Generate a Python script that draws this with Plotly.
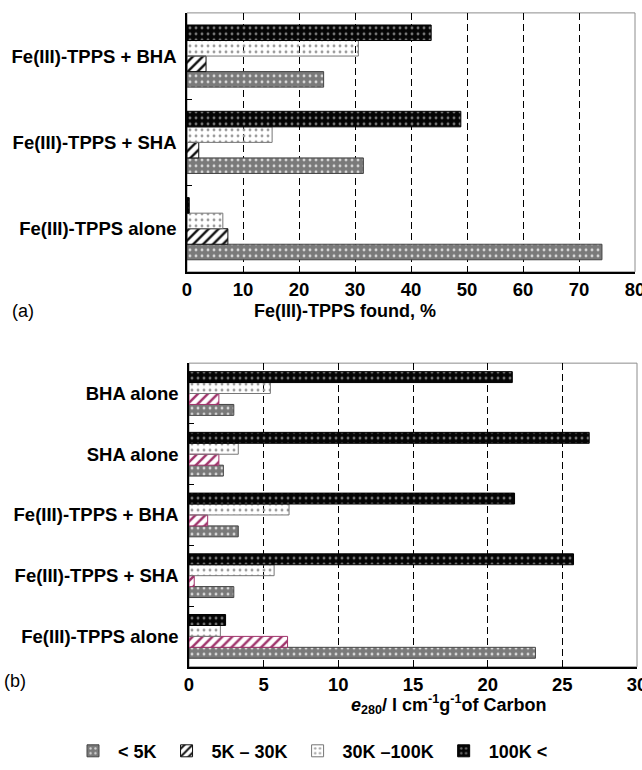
import plotly.graph_objects as go

# ---- data -------------------------------------------------------------
size_classes = ["< 5K", "5K \u2013 30K", "30K \u2013100K", "100K <"]

# (a) Fe(III)-TPPS found in each molecular-size fraction, %
groups_a = ["Fe(III)-TPPS alone", "Fe(III)-TPPS + SHA", "Fe(III)-TPPS + BHA"]
found_lt5k = [74.1, 31.5, 24.4]
found_5k_30k = [7.3, 2.1, 3.4]
found_30k_100k = [6.4, 15.2, 30.6]
found_gt100k = [0.4, 48.9, 43.6]

# (b) e280 of each fraction, l cm^-1 g^-1 of carbon
groups_b = ["Fe(III)-TPPS alone", "Fe(III)-TPPS + SHA", "Fe(III)-TPPS + BHA",
            "SHA alone", "BHA alone"]
e280_lt5k = [23.2, 3.0, 3.3, 2.3, 3.0]
e280_5k_30k = [6.6, 0.35, 1.25, 2.0, 2.0]
e280_30k_100k = [2.1, 5.7, 6.7, 3.3, 5.45]
e280_gt100k = [2.45, 25.75, 21.8, 26.8, 21.65]

# ---- styling ----------------------------------------------------------
FONT = "Liberation Sans, Arial, Helvetica, sans-serif"


def dotted(bg, fg, line):
    return dict(color=bg, line=dict(color=line, width=1),
                pattern=dict(shape=".", fillmode="replace", bgcolor=bg,
                             fgcolor=fg, size=6, solidity=0.18))


def hatched(fg):
    return dict(color="white", line=dict(color=fg, width=1),
                pattern=dict(shape="/", fillmode="replace", bgcolor="white",
                             fgcolor=fg, size=7, solidity=0.35))


styles_a = [dotted("#7a7a7a", "#d8d8d8", "#444444"),
            hatched("#111111"),
            dotted("rgba(255,255,255,0)", "#9a9a9a", "#777777"),
            dotted("#050505", "#777777", "#000000")]
styles_b = [dotted("#7a7a7a", "#d8d8d8", "#444444"),
            hatched("#a0336b"),
            dotted("rgba(255,255,255,0)", "#9a9a9a", "#777777"),
            dotted("#050505", "#777777", "#000000")]

fig = go.Figure()

series_a = [found_lt5k, found_5k_30k, found_30k_100k, found_gt100k]
series_b = [e280_lt5k, e280_5k_30k, e280_30k_100k, e280_gt100k]

for name, vals, st in zip(size_classes, series_a, styles_a):
    fig.add_trace(go.Bar(x=vals, y=groups_a, orientation="h", name=name,
                         marker=st, xaxis="x", yaxis="y", showlegend=True,
                         legendgroup=name))
for name, vals, st in zip(size_classes, series_b, styles_b):
    fig.add_trace(go.Bar(x=vals, y=groups_b, orientation="h", name=name,
                         marker=st, xaxis="x2", yaxis="y2", showlegend=False,
                         legendgroup=name))

W, H = 642, 770


def px_x(p):
    return p / W


def px_y(p):
    return 1 - p / H


xcommon = dict(showline=True, linecolor="black", linewidth=1.5,
               ticks="inside", ticklen=5, tickcolor="black",
               showgrid=True, gridcolor="black", gridwidth=1.4,
               griddash="7px,4px", zeroline=False, ticklabeloverflow="allow",
               automargin=False,
               tickfont=dict(family=FONT, size=18.5, color="black", weight="bold"))
ycommon = dict(showline=True, linecolor="black", linewidth=1.5,
               ticks="inside", ticklen=5, tickcolor="black",
               tickson="boundaries", showgrid=False, ticklabelstandoff=5,
               ticklabeloverflow="allow", automargin=False,
               tickfont=dict(family=FONT, size=18.5, color="black", weight="bold"),
               categoryorder="array")

fig.update_layout(
    width=W, height=H,
    margin=dict(l=0, r=0, t=0, b=0),
    paper_bgcolor="white", plot_bgcolor="white",
    barmode="group", bargap=0.28, bargroupgap=0,
    xaxis=dict(domain=[px_x(187), px_x(635)], range=[0, 80], dtick=10,
               anchor="y", **xcommon),
    yaxis=dict(domain=[px_y(274), px_y(13)], anchor="x",
               categoryarray=groups_a, **ycommon),
    xaxis2=dict(domain=[px_x(189), px_x(637)], range=[0, 30], dtick=5,
                anchor="y2", **xcommon),
    yaxis2=dict(domain=[px_y(672), px_y(366)], anchor="x2",
                categoryarray=groups_b, **ycommon),
    legend=dict(orientation="h", x=px_x(68), xanchor="left",
                y=px_y(757), yanchor="middle", itemwidth=40,
                font=dict(family=FONT, size=18, color="black", weight="bold"),
                bgcolor="rgba(0,0,0,0)", traceorder="normal"),
)

# light frame on the open top/right sides of both panels
for xr, yr in (("x domain", "y domain"), ("x2 domain", "y2 domain")):
    fig.add_shape(type="rect", xref=xr, yref=yr, x0=0, x1=1, y0=0, y1=1,
                  line=dict(color="#8c8c8c", width=1), layer="below")

ann_font = dict(family=FONT, size=18, color="black")
fig.add_annotation(text="<b>Fe(III)-TPPS found, %</b>", x=px_x(345), y=px_y(313),
                   xref="paper", yref="paper", showarrow=False,
                   font=ann_font, xanchor="center", yanchor="middle")
fig.add_annotation(text="<b><i>e</i><sub>280</sub>/ l cm<sup>-1</sup>g<sup>-1</sup>of Carbon</b>",
                   x=px_x(448), y=px_y(710), xref="paper", yref="paper",
                   showarrow=False, font=ann_font, xanchor="center",
                   yanchor="middle")
fig.add_annotation(text="(a)", x=px_x(10), y=px_y(313), xref="paper",
                   yref="paper", showarrow=False, font=ann_font,
                   xanchor="left", yanchor="middle")
fig.add_annotation(text="(b)", x=px_x(2), y=px_y(686), xref="paper",
                   yref="paper", showarrow=False, font=ann_font,
                   xanchor="left", yanchor="middle")

fig.write_html("out.html")
